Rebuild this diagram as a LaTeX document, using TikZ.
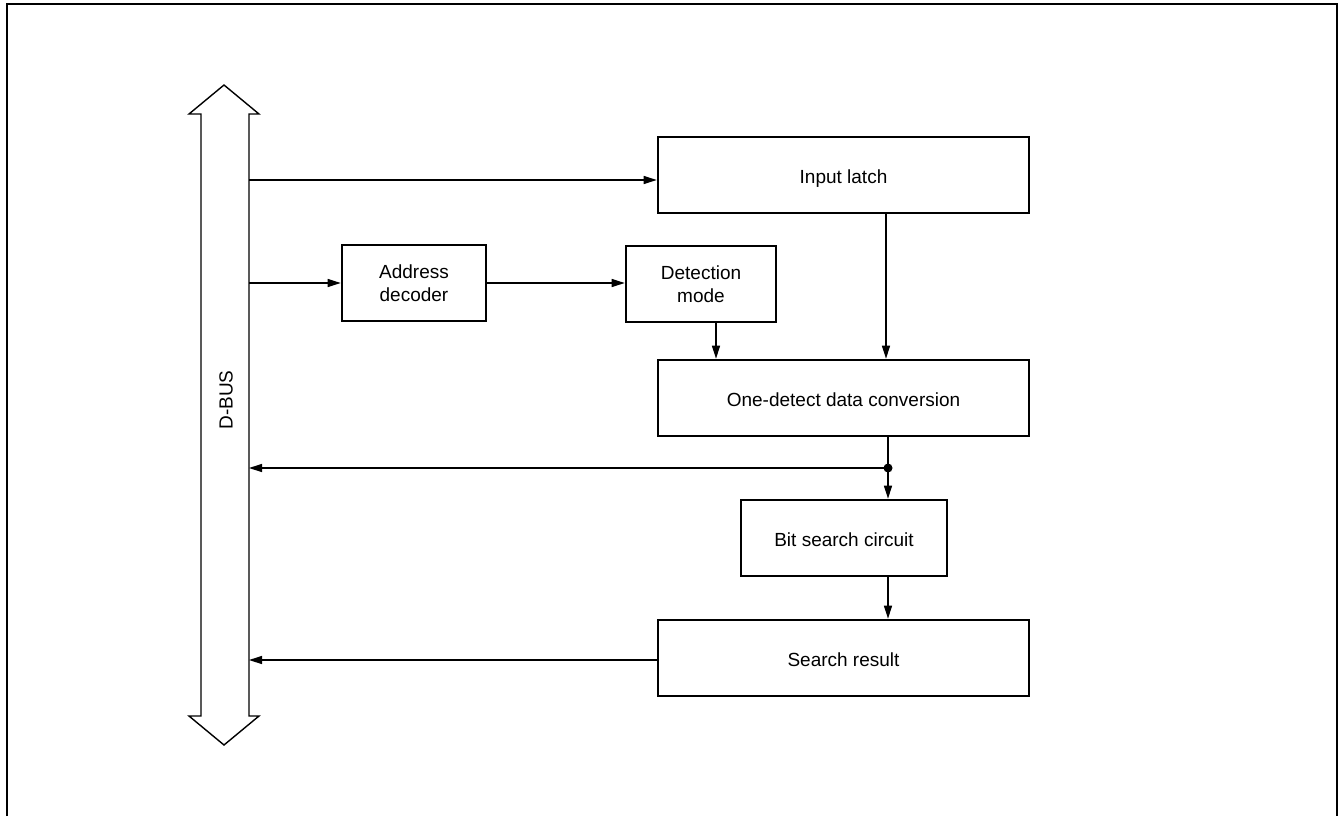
\documentclass[tikz,border=0pt]{standalone}
\usepackage{fontspec}
\setmainfont{Liberation Sans}
\usetikzlibrary{arrows.meta}
\begin{document}
\begin{tikzpicture}[x=1pt,y=-1pt,
  blk/.style={draw,line width=2.6pt,minimum height=76pt,inner sep=0pt,align=center,font=\fontsize{19}{22.5}\selectfont},
  oneline/.style={text height=20pt,text depth=4pt},
  conn/.style={line width=1.4pt,-{Triangle[length=13pt,width=8pt]}},
  plain/.style={line width=1.4pt}]
\path[use as bounding box] (0,0) rectangle (1340,816);
% outer frame
\draw[line width=2.6pt] (7,816) -- (7,4) -- (1337,4) -- (1337,816);
% bus
\draw[line width=1.4pt,line join=miter] (224,85) -- (259,114) -- (249,114) -- (249,716) -- (259,716) -- (224,745) -- (189,716) -- (201,716) -- (201,114) -- (189,114) -- cycle;
\node[rotate=90,font=\fontsize{19}{22}\selectfont] (dbus) at (226,400) {D-BUS};
% blocks
\node[blk,oneline,minimum width=371pt] (latch) at (843.5,175) {Input latch};
\node[blk,minimum width=144pt] (addr) at (414,283) {Address\\decoder};
\node[blk,minimum width=150pt] (mode) at (701,284) {Detection\\mode};
\node[blk,oneline,minimum width=371pt] (conv) at (843.5,398) {One-detect data conversion};
\node[blk,oneline,minimum width=206pt] (bits) at (844,538) {Bit search circuit};
\node[blk,oneline,minimum width=371pt] (res) at (843.5,658) {Search result};
% bus taps
\coordinate (b1) at (249,180);
\coordinate (b2) at (249,283);
\coordinate (b3) at (249,468);
\coordinate (b4) at (249,660);
\coordinate (j) at (888,468);
% connectors
\draw[conn] (b1) -- (b1 -| latch.west);
\draw[conn] (b2) -- (addr.west |- b2);
\draw[conn] (addr.east) -- (mode.west |- addr.east);
\draw[conn] (mode.south -| 716,0) -- (716,0 |- conv.north);
\draw[conn] (latch.south -| 886,0) -- (886,0 |- conv.north);
\draw[plain] (conv.south -| j) -- (j);
\draw[conn] (j) -- (j |- bits.north);
\draw[conn] (j) -- (b3);
\fill (j) circle (4.5pt);
\draw[conn] (bits.south -| j) -- (j |- res.north);
\draw[conn] (res.west |- b4) -- (b4);
\end{tikzpicture}
\end{document}
